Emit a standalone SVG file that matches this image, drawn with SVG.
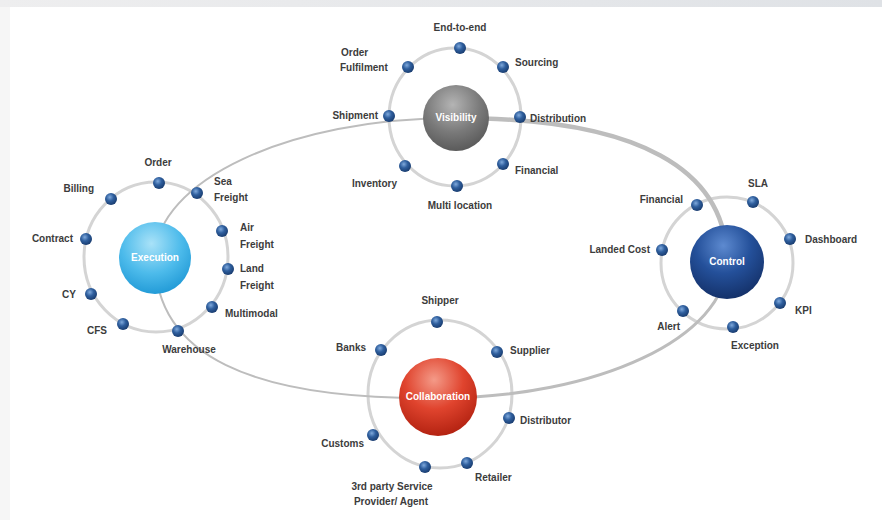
<svg xmlns="http://www.w3.org/2000/svg" width="882" height="520" viewBox="0 0 882 520">
<defs>
<style>
.lbl{font-family:"Liberation Sans",Arial,sans-serif;font-size:10px;font-weight:bold;fill:#3c3c3c}
.ctr{font-family:"Liberation Sans",Arial,sans-serif;font-size:10px;font-weight:bold;fill:#ffffff;text-anchor:middle}
.ring{fill:none;stroke:#d4d4d4;stroke-width:3}
.loop{fill:none;stroke:#bdbdbd;stroke-linecap:round}
.mid{text-anchor:middle}
.end{text-anchor:end}
</style>
<radialGradient id="gDot" cx="0.4" cy="0.35" r="0.7">
<stop offset="0" stop-color="#7fa9dc"/>
<stop offset="0.45" stop-color="#2f5f9e"/>
<stop offset="1" stop-color="#16386a"/>
</radialGradient>
<radialGradient id="gVis" cx="0.45" cy="0.3" r="0.75">
<stop offset="0" stop-color="#b4b4b4"/>
<stop offset="0.55" stop-color="#7a7a7a"/>
<stop offset="1" stop-color="#555555"/>
</radialGradient>
<radialGradient id="gExe" cx="0.45" cy="0.3" r="0.75">
<stop offset="0" stop-color="#a9e2f8"/>
<stop offset="0.55" stop-color="#4dbbeb"/>
<stop offset="1" stop-color="#1c96d4"/>
</radialGradient>
<radialGradient id="gCon" cx="0.45" cy="0.28" r="0.75">
<stop offset="0" stop-color="#5d8ad0"/>
<stop offset="0.5" stop-color="#24509a"/>
<stop offset="1" stop-color="#132f66"/>
</radialGradient>
<radialGradient id="gCol" cx="0.45" cy="0.28" r="0.75">
<stop offset="0" stop-color="#f49a88"/>
<stop offset="0.5" stop-color="#e0442e"/>
<stop offset="1" stop-color="#b0200f"/>
</radialGradient>
<linearGradient id="gTop" x1="0" y1="0" x2="1" y2="0">
<stop offset="0" stop-color="#eeeeef"/>
<stop offset="1" stop-color="#dfe2e6"/>
</linearGradient>
<circle id="dot" r="6" fill="url(#gDot)"/>
</defs>

<rect x="0" y="0" width="882" height="520" fill="#ffffff"/>
<rect x="0" y="0" width="882" height="7" fill="url(#gTop)"/>
<rect x="0" y="7" width="10" height="513" fill="#f6f6f6"/>

<g id="rings">
<ellipse class="ring" cx="455" cy="117" rx="66" ry="69"/>
<ellipse class="ring" cx="156" cy="257" rx="72" ry="75"/>
<circle class="ring" cx="727" cy="263" r="66"/>
<ellipse class="ring" cx="440" cy="394" rx="72" ry="74"/>
</g>

<g id="connectors">
<path class="loop" stroke-width="2" d="M155,258 C155,181 289,118 455,118"/>
<path class="loop" stroke-width="4.5" stroke="#b3b3b3" d="M455,118 C640,118 727,170 727,262"/>
<path class="loop" stroke-width="3" d="M727,262 C727,337 598,398 438,398"/>
<path class="loop" stroke-width="2" d="M438,398 C250,400 155,355 155,258"/>
</g>

<g id="visibility">
<circle cx="456" cy="118" r="33" fill="url(#gVis)"/>
<text class="ctr" x="456" y="121">Visibility</text>
</g>
<g id="execution">
<circle cx="155" cy="258" r="36" fill="url(#gExe)"/>
<text class="ctr" x="155" y="261">Execution</text>
</g>
<g id="control">
<circle cx="727" cy="262" r="37" fill="url(#gCon)"/>
<text class="ctr" x="727" y="265">Control</text>
</g>
<g id="collaboration">
<circle cx="438" cy="397" r="39" fill="url(#gCol)"/>
<text class="ctr" x="438" y="400">Collaboration</text>
</g>

<g id="vis-end-to-end"><use href="#dot" x="460" y="48"/><text class="lbl mid" x="460" y="31">End-to-end</text></g>
<g id="vis-order-fulfilment"><use href="#dot" x="408" y="67"/><text class="lbl" x="341" y="56">Order</text><text class="lbl" x="340" y="71">Fulfilment</text></g>
<g id="vis-sourcing"><use href="#dot" x="503" y="67"/><text class="lbl" x="515" y="66">Sourcing</text></g>
<g id="vis-shipment"><use href="#dot" x="389" y="116"/><text class="lbl end" x="378" y="119">Shipment</text></g>
<g id="vis-distribution"><use href="#dot" x="520" y="117"/><text class="lbl" x="530" y="122">Distribution</text></g>
<g id="vis-inventory"><use href="#dot" x="405" y="166"/><text class="lbl end" x="397" y="187">Inventory</text></g>
<g id="vis-financial"><use href="#dot" x="503" y="164"/><text class="lbl" x="515" y="174">Financial</text></g>
<g id="vis-multi-location"><use href="#dot" x="457" y="186"/><text class="lbl mid" x="460" y="209">Multi location</text></g>

<g id="exe-order"><use href="#dot" x="159" y="183"/><text class="lbl mid" x="158" y="166">Order</text></g>
<g id="exe-billing"><use href="#dot" x="111" y="199"/><text class="lbl end" x="94" y="192">Billing</text></g>
<g id="exe-sea-freight"><use href="#dot" x="197" y="193"/><text class="lbl" x="214" y="185">Sea</text><text class="lbl" x="214" y="201">Freight</text></g>
<g id="exe-contract"><use href="#dot" x="86" y="239"/><text class="lbl end" x="73" y="242">Contract</text></g>
<g id="exe-air-freight"><use href="#dot" x="222" y="231"/><text class="lbl" x="240" y="231">Air</text><text class="lbl" x="240" y="248">Freight</text></g>
<g id="exe-land-freight"><use href="#dot" x="228" y="269"/><text class="lbl" x="240" y="272">Land</text><text class="lbl" x="240" y="289">Freight</text></g>
<g id="exe-cy"><use href="#dot" x="91" y="294"/><text class="lbl end" x="76" y="298">CY</text></g>
<g id="exe-multimodal"><use href="#dot" x="212" y="307"/><text class="lbl" x="225" y="317">Multimodal</text></g>
<g id="exe-cfs"><use href="#dot" x="123" y="324"/><text class="lbl end" x="107" y="334">CFS</text></g>
<g id="exe-warehouse"><use href="#dot" x="178" y="331"/><text class="lbl mid" x="189" y="353">Warehouse</text></g>

<g id="con-financial"><use href="#dot" x="697" y="205"/><text class="lbl end" x="683" y="203">Financial</text></g>
<g id="con-sla"><use href="#dot" x="753" y="202"/><text class="lbl mid" x="758" y="187">SLA</text></g>
<g id="con-dashboard"><use href="#dot" x="790" y="239"/><text class="lbl" x="805" y="243">Dashboard</text></g>
<g id="con-landed-cost"><use href="#dot" x="662" y="250"/><text class="lbl end" x="650" y="253">Landed Cost</text></g>
<g id="con-kpi"><use href="#dot" x="780" y="303"/><text class="lbl" x="795" y="314">KPI</text></g>
<g id="con-alert"><use href="#dot" x="683" y="311"/><text class="lbl end" x="680" y="330">Alert</text></g>
<g id="con-exception"><use href="#dot" x="733" y="327"/><text class="lbl mid" x="755" y="349">Exception</text></g>

<g id="col-shipper"><use href="#dot" x="437" y="322"/><text class="lbl mid" x="440" y="304">Shipper</text></g>
<g id="col-banks"><use href="#dot" x="381" y="350"/><text class="lbl end" x="366" y="351">Banks</text></g>
<g id="col-supplier"><use href="#dot" x="497" y="352"/><text class="lbl" x="510" y="354">Supplier</text></g>
<g id="col-distributor"><use href="#dot" x="509" y="418"/><text class="lbl" x="520" y="424">Distributor</text></g>
<g id="col-customs"><use href="#dot" x="373" y="435"/><text class="lbl end" x="364" y="447">Customs</text></g>
<g id="col-retailer"><use href="#dot" x="467" y="463"/><text class="lbl" x="475" y="481">Retailer</text></g>
<g id="col-3rd-party"><use href="#dot" x="425" y="467"/><text class="lbl mid" x="392" y="490">3rd party Service</text><text class="lbl mid" x="391" y="505">Provider/ Agent</text></g>
</svg>
